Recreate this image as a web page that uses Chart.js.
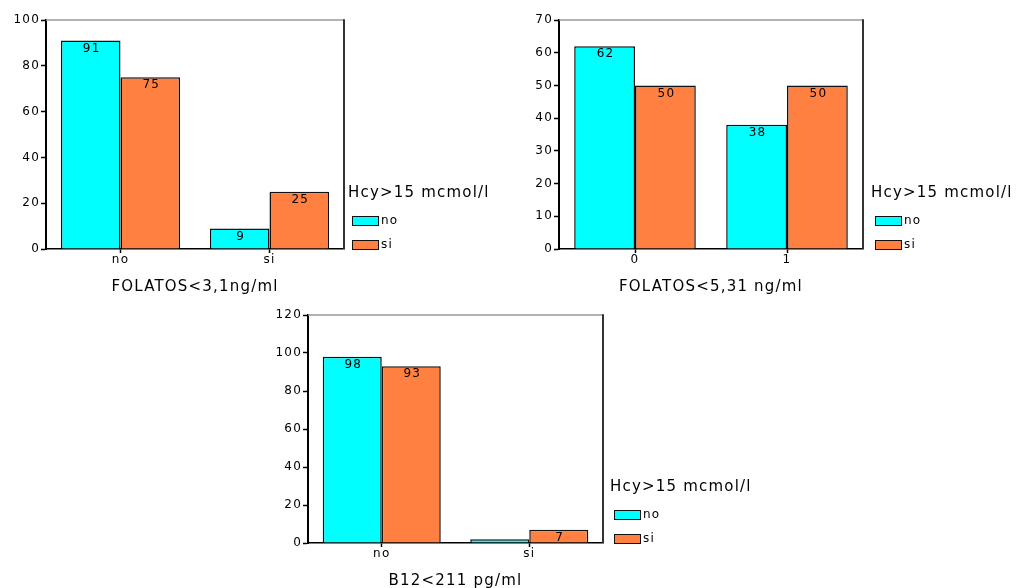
<!DOCTYPE html>
<html>
<head>
<meta charset="utf-8">
<script src="https://cdn.jsdelivr.net/npm/chart.js@4.4.0/dist/chart.umd.min.js"></script>
<style>
  body { margin: 0; background: #fff; }
  #wrap { position: relative; width: 1016px; height: 588px; overflow: hidden; background: #fff; }
  canvas { position: absolute; }
</style>
</head>
<body>
<div id="wrap">
  <canvas id="chartFol3" width="508" height="300" style="left:0;top:0"></canvas>
  <canvas id="chartFol5" width="508" height="300" style="left:508px;top:0"></canvas>
  <canvas id="chartB12" width="520" height="295" style="left:250px;top:293px"></canvas>
</div>
<script>
// grupos Hcy>15 mcmol/l
const hcyTitle = "Hcy>15 mcmol/l";
const seriesNames = ["no", "si"];

// FOLATOS<3,1ng/ml
const fol3Cats = ["no", "si"];
const fol3No = [91, 9];
const fol3Si = [75, 25];

// FOLATOS<5,31 ng/ml
const fol5Cats = ["0", "1"];
const fol5No = [62, 38];
const fol5Si = [50, 50];

// B12<211 pg/ml
const b12Cats = ["no", "si"];
const b12No = [98, 2];
const b12Si = [93, 7];

const FONT = "'DejaVu Sans', sans-serif";
const CYAN = "#00ffff";
const ORANGE = "#ff8040";
const EDGE = "#111";
const Y_W = 40;   // ancho fijo del eje y
const X_H = 46;   // alto fijo del eje x (etiquetas + titulo)

// texto algo espaciado, como en el original
const spacingPlugin = {
  id: "spacing",
  beforeUpdate(chart) { chart.ctx.letterSpacing = "1.2px"; },
  beforeDraw(chart) { chart.ctx.letterSpacing = "1.2px"; }
};

// marco: linea gris arriba, linea oscura a la derecha
const framePlugin = {
  id: "frame",
  afterDatasetsDraw(chart) {
    const { ctx, chartArea: a } = chart;
    ctx.save();
    ctx.strokeStyle = "#999";
    ctx.lineWidth = 1.5;
    ctx.beginPath();
    ctx.moveTo(a.left, a.top);
    ctx.lineTo(a.right, a.top);
    ctx.stroke();
    ctx.strokeStyle = "#333";
    ctx.lineWidth = 2;
    ctx.beginPath();
    ctx.moveTo(a.right, a.top - 0.75);
    ctx.lineTo(a.right, a.bottom);
    ctx.stroke();
    ctx.restore();
  }
};

// valores dentro de cada barra (si cabe)
const valuePlugin = {
  id: "values",
  afterDatasetsDraw(chart) {
    const ctx = chart.ctx;
    ctx.save();
    ctx.font = "12px " + FONT;
    ctx.fillStyle = "#000";
    ctx.textAlign = "center";
    ctx.textBaseline = "middle";
    chart.data.datasets.forEach((ds, i) => {
      chart.getDatasetMeta(i).data.forEach((bar, j) => {
        if (bar.base - bar.y < 10) return;
        ctx.fillText(String(ds.data[j]), bar.x + 1, bar.y + 8);
      });
    });
    ctx.restore();
  }
};

// leyenda a la derecha, abajo
const legendPlugin = {
  id: "hcyLegend",
  afterDraw(chart, args, opts) {
    const { ctx, chartArea: a } = chart;
    const x = a.right + opts.offset;
    ctx.save();
    ctx.textAlign = "left";
    ctx.textBaseline = "middle";
    ctx.fillStyle = "#000";
    ctx.font = "15px " + FONT;
    ctx.fillText(opts.title, x, a.bottom - 56);
    ctx.font = "12px " + FONT;
    chart.data.datasets.forEach((ds, i) => {
      const cy = a.bottom - 28 + i * 24;
      ctx.fillStyle = ds.backgroundColor;
      ctx.fillRect(x + 4, cy - 5, 27, 10);
      ctx.strokeStyle = EDGE;
      ctx.lineWidth = 1;
      ctx.strokeRect(x + 4.5, cy - 4.5, 26, 9);
      ctx.fillStyle = "#000";
      ctx.fillText(ds.label, x + 33, cy);
    });
    ctx.restore();
  }
};

function buildChart(id, cats, noVals, siVals, yMax, yStep, xTitle, area, legendOffset) {
  const canvas = document.getElementById(id);
  const W = canvas.width, H = canvas.height;
  const barStyle = { borderColor: EDGE, borderWidth: 1.5, categoryPercentage: 0.8, barPercentage: 1 };
  return new Chart(canvas, {
    type: "bar",
    data: {
      labels: cats,
      datasets: [
        Object.assign({ label: seriesNames[0], data: noVals, backgroundColor: CYAN }, barStyle),
        Object.assign({ label: seriesNames[1], data: siVals, backgroundColor: ORANGE }, barStyle)
      ]
    },
    options: {
      responsive: false,
      animation: false,
      layout: {
        padding: {
          left: area.left - Y_W,
          top: area.top,
          right: W - area.right,
          bottom: H - area.bottom - X_H
        }
      },
      plugins: {
        legend: { display: false },
        tooltip: { enabled: false },
        hcyLegend: { title: hcyTitle, offset: legendOffset }
      },
      scales: {
        x: {
          z: 1,
          grid: { offset: false, drawOnChartArea: false, tickLength: 4, color: "#000", tickWidth: 1.5 },
          border: { color: "#000", width: 1.5 },
          ticks: { font: { family: FONT, size: 12 }, color: "#000", padding: 0 },
          title: { display: true, text: xTitle, color: "#000", padding: 0,
                   font: { family: FONT, size: 15, lineHeight: 1 } },
          afterFit(s) { s.height = X_H; }
        },
        y: {
          z: 1,
          min: 0,
          max: yMax,
          ticks: { stepSize: yStep, font: { family: FONT, size: 12 }, color: "#000", padding: 1 },
          grid: { drawOnChartArea: false, tickLength: 5, color: "#000", tickWidth: 1.5 },
          border: { color: "#000", width: 2 },
          afterFit(s) { s.width = Y_W; }
        }
      }
    },
    plugins: [spacingPlugin, framePlugin, valuePlugin, legendPlugin]
  });
}

buildChart("chartFol3", fol3Cats, fol3No, fol3Si, 100, 20, "FOLATOS<3,1ng/ml",
  { left: 46, top: 20, right: 344, bottom: 249 }, 4);
buildChart("chartFol5", fol5Cats, fol5No, fol5Si, 70, 10, "FOLATOS<5,31 ng/ml",
  { left: 51, top: 20, right: 355, bottom: 249 }, 8);
buildChart("chartB12", b12Cats, b12No, b12Si, 120, 20, "B12<211 pg/ml",
  { left: 58, top: 22, right: 353, bottom: 250 }, 7);
</script>
</body>
</html>
